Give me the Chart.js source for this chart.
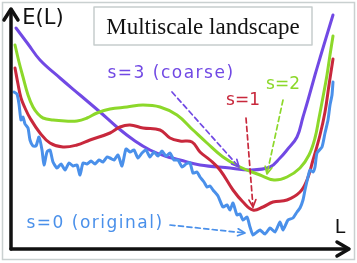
<!DOCTYPE html>
<html><head><meta charset="utf-8">
<script src="https://cdn.jsdelivr.net/npm/chart.js@4/dist/chart.umd.min.js"></script>
<style>html,body{margin:0;padding:0;background:#fff;}canvas{display:block;}</style>
</head><body>
<canvas id="c" width="357" height="263"></canvas>
<script>
// ---- data (L = parameter, E = energy, arbitrary units) ----
const L_s3 = [4,16,28,48,68,88,106,123,138,153,168,188,218,238,258,268,275,285,291,296,303,308,314,321];
const E_s3 = [220,204,188,170,153,136,120,107,98,92,88,83,80,78,81,90,98,111,131,148,173,190,210,233];

const L_s2 = [3,7,11,16,21,26,31,41,53,65,75,85,98,115,131,148,165,181,195,211,228,248,262,275,288,297,303,307,311,315,318,321];
const E_s2 = [203,186,171,153,141,134,130,128,127,127,130,135,139,141,143,141,133,118,105,91,81,73,68,71,80,93,110,130,151,173,193,212];

const L_s1 = [3,6,9,13,18,28,38,51,65,78,98,108,118,131,148,158,168,180,188,198,208,221,231,241,251,261,275,288,295,301,308,313,317,321];
const E_s1 = [180,164,150,140,130,115,105,101,103,108,115,121,123,120,118,110,107,106,96,88,78,58,46,38,41,46,48,56,68,88,113,136,163,189];

const L_s0 = [2,5,7,9,11,13,16,18,21,24,27,30,32,35,38,41,45,49,53,57,61,65,68,71,75,79,83,87,91,95,98,102,106,110,114,118,122,126,130,134,138,142,146,150,154,158,162,166,170,174,178,181,185,188,192,195,198,201,206,211,215,218,221,225,228,231,235,238,241,245,248,253,258,263,268,271,276,281,285,288,291,293,296,298,301,303,305,310,313,316,318,320,321];
const E_s0 = [156,154,144,128,131,124,120,108,102,102,111,98,83,96,98,86,80,84,78,85,82,83,73,85,84,87,84,88,86,91,90,88,93,82,99,96,98,90,95,98,91,96,92,97,92,95,88,88,81,84,85,75,76,71,66,61,62,58,52,41,43,38,45,33,34,28,31,21,13,16,18,14,20,16,26,18,28,30,36,40,48,58,71,78,76,81,95,101,115,128,143,153,166];

const seriesNames = ['s=0 (original)', 's=1', 's=2', 's=3 (coarse)'];
const titleText = 'Multiscale landscape';
const yAxisLabel = 'E(L)';
const xAxisLabel = 'L';
const L_MAX = 337, E_MAX = 240;

// ---- styles ----
const COLORS = ['#4a90ea', '#c8283c', '#8cd82a', '#7149e4'];
// label anchor (data units), arrow start/end (data units), letter spacing
const LABEL_POS = [
  {at:[83,24], from:[158,23], to:[233,15], ls:1.5},
  {at:[231,147], from:[234,130], to:[241,41], ls:0},
  {at:[271,163], from:[271,148], to:[255,74], ls:0},
  {at:[159,174], from:[160,156], to:[227,81], ls:1.5}
];

const pts = (Ls, Es) => Ls.map((l, i) => ({x: l, y: Es[i]}));
const series = [pts(L_s0, E_s0), pts(L_s1, E_s1), pts(L_s2, E_s2), pts(L_s3, E_s3)];

function dashedArrow(ctx, x1, y1, x2, y2, color) {
  ctx.save();
  ctx.strokeStyle = color; ctx.lineWidth = 1.7; ctx.lineCap = 'round';
  ctx.setLineDash([5, 3.5]);
  ctx.beginPath(); ctx.moveTo(x1, y1); ctx.lineTo(x2, y2); ctx.stroke();
  ctx.setLineDash([]);
  const ang = Math.atan2(y2 - y1, x2 - x1), h = 8;
  ctx.beginPath();
  ctx.moveTo(x2 - h * Math.cos(ang - 0.45), y2 - h * Math.sin(ang - 0.45));
  ctx.lineTo(x2, y2);
  ctx.lineTo(x2 - h * Math.cos(ang + 0.45), y2 - h * Math.sin(ang + 0.45));
  ctx.stroke();
  ctx.restore();
}

const overlay = {
  id: 'overlay',
  beforeDraw(chart) {
    const ctx = chart.ctx;
    ctx.save();
    ctx.fillStyle = '#fff'; ctx.fillRect(0, 0, chart.width, chart.height);
    ctx.strokeStyle = '#c9d0d0'; ctx.lineWidth = 1.5;
    ctx.strokeRect(2.5, 2.5, chart.width - 5, chart.height - 6);
    ctx.restore();
  },
  afterDatasetsDraw(chart) {
    const {ctx, chartArea: a, scales: {x, y}} = chart;
    ctx.save();
    // axes
    const ox = a.left - 1, oy = a.bottom + 1;
    ctx.strokeStyle = '#111'; ctx.lineWidth = 3.5; ctx.lineCap = 'round'; ctx.lineJoin = 'round';
    ctx.beginPath(); ctx.moveTo(ox, oy); ctx.lineTo(ox, a.top + 2); ctx.stroke();
    ctx.beginPath(); ctx.moveTo(ox - 7, a.top + 12); ctx.lineTo(ox, a.top + 1); ctx.lineTo(ox + 7, a.top + 12); ctx.stroke();
    ctx.beginPath(); ctx.moveTo(ox, oy); ctx.lineTo(a.right - 1, oy); ctx.stroke();
    ctx.beginPath(); ctx.moveTo(a.right - 12, oy - 7); ctx.lineTo(a.right, oy); ctx.lineTo(a.right - 12, oy + 7); ctx.stroke();

    // axis labels
    ctx.fillStyle = '#111'; ctx.textAlign = 'center'; ctx.textBaseline = 'middle';
    ctx.font = '21px "DejaVu Sans"';
    ctx.fillText(yAxisLabel, x.getPixelForValue(31), y.getPixelForValue(229));
    ctx.font = '19px "DejaVu Sans"';
    ctx.fillText(xAxisLabel, x.getPixelForValue(328), y.getPixelForValue(20));

    // title box
    const bx = 94, by = 7, bw = 218, bh = 38;
    ctx.fillStyle = '#fff'; ctx.fillRect(bx, by, bw, bh);
    ctx.strokeStyle = '#c6cdcd'; ctx.lineWidth = 1.5; ctx.strokeRect(bx, by, bw, bh);
    ctx.fillStyle = '#111'; ctx.font = '23px "Liberation Serif"';
    ctx.textBaseline = 'alphabetic';
    ctx.fillText(titleText, bx + bw / 2, by + 27);

    // series labels + arrows
    ctx.textBaseline = 'middle';
    ctx.font = '17px "DejaVu Sans"';
    seriesNames.forEach((name, i) => {
      const p = LABEL_POS[i];
      ctx.fillStyle = COLORS[i];
      ctx.letterSpacing = p.ls + 'px';
      ctx.fillText(name, x.getPixelForValue(p.at[0]), y.getPixelForValue(p.at[1]));
      ctx.letterSpacing = '0px';
      dashedArrow(ctx, x.getPixelForValue(p.from[0]), y.getPixelForValue(p.from[1]),
                  x.getPixelForValue(p.to[0]), y.getPixelForValue(p.to[1]), COLORS[i]);
    });
    ctx.restore();
  }
};

new Chart(document.getElementById('c'), {
  type: 'line',
  data: {
    datasets: series.map((d, i) => ({
      label: seriesNames[i],
      data: d,
      borderColor: COLORS[i],
      borderWidth: 3,
      pointRadius: 0,
      tension: i === 0 ? 0.2 : 0.4,
      fill: false,
      borderCapStyle: 'round',
      borderJoinStyle: 'round'
    }))
  },
  options: {
    responsive: false,
    animation: false,
    layout: {padding: {left: 12, right: 8, top: 8, bottom: 15}},
    plugins: {legend: {display: false}, tooltip: {enabled: false}},
    scales: {
      x: {type: 'linear', min: 0, max: L_MAX, display: false},
      y: {type: 'linear', min: 0, max: E_MAX, display: false}
    }
  },
  plugins: [overlay]
});
</script>
</body></html>
